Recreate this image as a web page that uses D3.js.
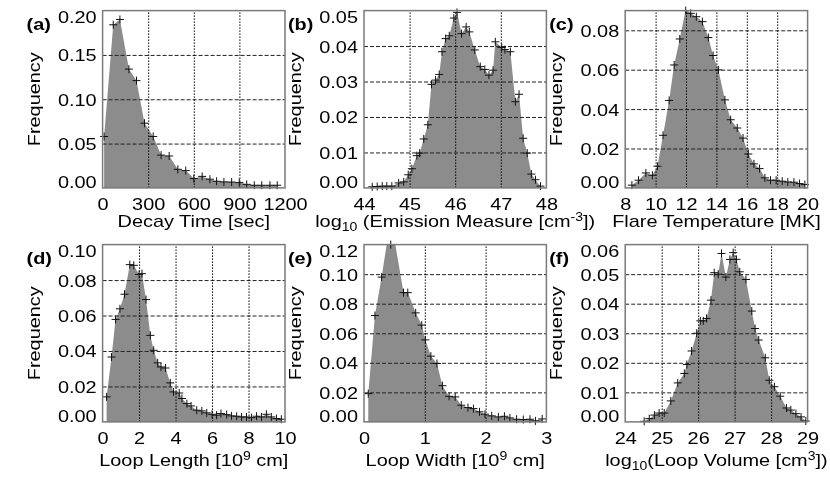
<!DOCTYPE html>
<html>
<head>
<meta charset="utf-8">
<script src="https://cdn.jsdelivr.net/npm/d3@7"></script>
<style>
body{margin:0;background:#fff}
svg{will-change:transform;-webkit-font-smoothing:antialiased}
text{font-family:"Liberation Sans",Arial,Helvetica,sans-serif;fill:#000}
</style>
</head>
<body>
<script>
// (a) decay time
var decayTime = [10, 70, 114, 173, 223, 276, 333, 385, 438, 495, 547, 600, 655, 706, 750, 798, 849, 899, 948, 998, 1047, 1101, 1149];
var decayFreq = [0.058, 0.184, 0.190, 0.134, 0.121, 0.073, 0.058, 0.037, 0.036, 0.021, 0.0195, 0.0105, 0.013, 0.0098, 0.0075, 0.0068, 0.0066, 0.006, 0.004, 0.003, 0.003, 0.003, 0.003];
var decayTicks = [0, 300, 600, 900, 1200];

// (b) log10 emission measure
var emX = [44.18, 44.29, 44.40, 44.50, 44.61, 44.76, 44.87, 44.97, 45.05, 45.16, 45.22, 45.31, 45.40, 45.48, 45.57, 45.65, 45.71, 45.79, 45.87, 45.97, 46.04, 46.14, 46.24, 46.31, 46.43, 46.55, 46.65, 46.74, 46.83, 46.88, 47.02, 47.09, 47.21, 47.32, 47.40, 47.49, 47.58, 47.67, 47.76, 47.87];
var emFreq = [0.0003, 0.0004, 0.0005, 0.0005, 0.0005, 0.0014, 0.0017, 0.0037, 0.0054, 0.0091, 0.0098, 0.0138, 0.0178, 0.0292, 0.0304, 0.032, 0.0384, 0.0421, 0.0429, 0.0479, 0.0495, 0.0435, 0.0454, 0.044, 0.0389, 0.0342, 0.0334, 0.0318, 0.0332, 0.0412, 0.0396, 0.039, 0.0384, 0.0243, 0.0264, 0.014, 0.0098, 0.0039, 0.0023, 0.0005];
var emTicks = [44, 45, 46, 47, 48];

// (c) flare temperature
var tempX = [8.44, 8.88, 9.36, 9.79, 10.12, 10.49, 10.89, 11.22, 11.59, 11.98, 12.31, 12.68, 13.08, 13.47, 13.78, 14.13, 14.56, 14.94, 15.37, 15.75, 16.10, 16.47, 16.84, 17.19, 17.56, 17.93, 18.33, 18.70, 19.10, 19.47, 19.82];
var tempFreq = [0.0014, 0.0039, 0.0076, 0.0064, 0.011, 0.0267, 0.0444, 0.0624, 0.0756, 0.0905, 0.0886, 0.0869, 0.0844, 0.0763, 0.0672, 0.0599, 0.0447, 0.0346, 0.0304, 0.0253, 0.0172, 0.0122, 0.0098, 0.0051, 0.0039, 0.0039, 0.0034, 0.003, 0.0029, 0.0022, 0.0017];
var tempTicks = [8, 10, 12, 14, 16, 18, 20];

// (d) loop length
var lenX = [0.22, 0.49, 0.71, 0.95, 1.2, 1.49, 1.71, 2.0, 2.16, 2.38, 2.62, 2.8, 3.02, 3.2, 3.45, 3.71, 3.89, 4.2, 4.35, 4.62, 4.85, 5.16, 5.44, 5.71, 6.0, 6.25, 6.49, 6.8, 7.07, 7.35, 7.62, 7.89, 8.16, 8.44, 8.71, 8.98, 9.25, 9.53, 9.8];
var lenFreq = [0.0141, 0.0366, 0.0578, 0.0638, 0.072, 0.0887, 0.0883, 0.0832, 0.0836, 0.069, 0.0488, 0.0404, 0.0333, 0.031, 0.0304, 0.022, 0.0169, 0.0163, 0.0132, 0.0103, 0.009, 0.0066, 0.0062, 0.0051, 0.0043, 0.0038, 0.0047, 0.0041, 0.0034, 0.0032, 0.0028, 0.0028, 0.0024, 0.0032, 0.0028, 0.0043, 0.0028, 0.0019, 0.0015];
var lenTicks = [0, 2, 4, 6, 8, 10];

// (e) loop width
var widX = [0.07, 0.18, 0.29, 0.44, 0.65, 0.72, 0.85, 0.95, 1.01, 1.1, 1.2, 1.29, 1.40, 1.5, 1.6, 1.71, 1.8, 1.9, 1.99, 2.1, 2.21, 2.31, 2.4, 2.51, 2.62, 2.73, 2.82, 2.93];
var widFreq = [0.0191, 0.072, 0.098, 0.138, 0.0875, 0.0875, 0.0738, 0.0655, 0.0555, 0.0445, 0.0395, 0.0245, 0.0173, 0.0169, 0.0113, 0.0097, 0.009, 0.0068, 0.0052, 0.0041, 0.0034, 0.0038, 0.0027, 0.0018, 0.0016, 0.0018, 0.0007, 0.002];
var widTicks = [0, 1, 2, 3];

// (f) log10 loop volume
var volX = [24.52, 24.66, 24.80, 24.93, 25.07, 25.25, 25.44, 25.62, 25.69, 25.82, 25.96, 26.06, 26.14, 26.23, 26.35, 26.44, 26.55, 26.64, 26.76, 26.87, 26.96, 27.05, 27.14, 27.31, 27.47, 27.56, 27.66, 27.84, 27.95, 28.09, 28.25, 28.42, 28.54, 28.68, 28.82, 28.95];
var volFreq = [0.0002, 0.0011, 0.0023, 0.003, 0.003, 0.0071, 0.0132, 0.0164, 0.0194, 0.024, 0.030, 0.0342, 0.0342, 0.035, 0.0412, 0.0505, 0.050, 0.057, 0.049, 0.055, 0.0573, 0.055, 0.0508, 0.0482, 0.0375, 0.0316, 0.0277, 0.0217, 0.0141, 0.0119, 0.0087, 0.0047, 0.004, 0.0028, 0.0017, 0.0003];
var volTicks = [24, 25, 26, 27, 28, 29];

var panels = [
	{tag:'(a)', col:0, row:0, xs:decayTime, ys:decayFreq, xDom:[0,1200], xTicks:decayTicks, yMax:0.20, yTicks:[0,0.05,0.10,0.15,0.20],
		title:[['Decay Time [sec]']]},
	{tag:'(b)', col:1, row:0, xs:emX, ys:emFreq, xDom:[44,48], xTicks:emTicks, yMax:0.05, yTicks:[0,0.01,0.02,0.03,0.04,0.05],
		title:[['log'],['10','sub'],[' (Emission Measure [cm'],['-3','sup'],['])']]},
	{tag:'(c)', col:2, row:0, xs:tempX, ys:tempFreq, xDom:[8,20], xTicks:tempTicks, yMax:0.09, yTicks:[0,0.02,0.04,0.06,0.08],
		title:[['Flare Temperature [MK]']]},
	{tag:'(d)', col:0, row:1, xs:lenX, ys:lenFreq, xDom:[0,10], xTicks:lenTicks, yMax:0.10, yTicks:[0,0.02,0.04,0.06,0.08,0.10],
		title:[['Loop Length [10'],['9','sup'],[' cm]']]},
	{tag:'(e)', col:1, row:1, xs:widX, ys:widFreq, xDom:[0,3], xTicks:widTicks, yMax:0.12, yTicks:[0,0.02,0.04,0.06,0.08,0.10,0.12],
		title:[['Loop Width [10'],['9','sup'],[' cm]']]},
	{tag:'(f)', col:2, row:1, xs:volX, ys:volFreq, xDom:[24,29], xTicks:volTicks, yMax:0.06, yTicks:[0,0.01,0.02,0.03,0.04,0.05,0.06],
		title:[['log'],['10','sub'],['(Loop Volume [cm'],['3','sup'],['])']]}
];

var width = 830, height = 489;
var W = 182.4, H = 177.3;
var lefts = [102.6, 364, 625.2];
var tops = [10.6, 244.6];
var titleOff = [39, 44];
var SX = 1.17; // the original lettering is wider than Liberation Sans
var FS = 17;

var svg = d3.select('body').append('svg').attr('width',width).attr('height',height);

function richText(sel, segs, anchor){
	var t = sel.append('text').attr('text-anchor',anchor).attr('font-size',FS);
	var off = 0;
	segs.forEach(s=>{
		var shift = s[1]==='sub' ? 4 : s[1]==='sup' ? -6 : 0;
		t.append('tspan')
			.attr('dy', shift-off)
			.attr('font-size', s[1] ? 12 : FS)
			.text(s[0]);
		off = shift;
	});
	return t;
}

panels.forEach((p,i)=>{
	var L = lefts[p.col], T = tops[p.row];
	var g = svg.append('g').attr('transform',`translate(${L},${T})`);

	var x = d3.scaleLinear().domain(p.xDom).range([0,W]);
	var y = d3.scaleLinear().domain([0,p.yMax]).range([H,0]);

	g.append('clipPath').attr('id','clip'+i)
		.append('rect').attr('width',W).attr('height',H);

	var pts = d3.zip(p.xs, p.ys);
	var area = d3.area()
		.x(d=>x(d[0]))
		.y0(H)
		.y1(d=>y(d[1]));

	g.append('path')
		.datum(pts)
		.attr('clip-path',`url(#clip${i})`)
		.attr('fill','#8c8c8c')
		.attr('d',area);

	// grid: dashed horizontals, dotted verticals
	var yIn = p.yTicks.filter(v=>v>0 && v<p.yMax);
	var xIn = p.xTicks.filter(v=>v>p.xDom[0] && v<p.xDom[1]);

	var gy = g.append('g').call(d3.axisLeft(y).tickValues(yIn).tickSize(-W).tickFormat(''));
	gy.select('.domain').remove();
	gy.selectAll('line').attr('stroke','#222').attr('stroke-dasharray','4,2');

	var gx = g.append('g').attr('transform',`translate(0,${H})`)
		.call(d3.axisBottom(x).tickValues(xIn).tickSize(-H).tickFormat(''));
	gx.select('.domain').remove();
	gx.selectAll('line').attr('stroke','#000').attr('stroke-dasharray','1.5,1.5');

	// plus markers
	g.append('g').selectAll('path.mark')
		.data(pts)
		.enter().append('path')
			.attr('class','mark')
			.attr('transform',d=>`translate(${x(d[0])},${y(Math.min(d[1],p.yMax))})`)
			.attr('d','M-4,0H4M0,-4V4')
			.attr('stroke','#111')
			.attr('stroke-width',1)
			.attr('fill','none');

	// frame
	g.append('rect').attr('width',W).attr('height',H)
		.attr('fill','none').attr('stroke','#7a7a7a').attr('stroke-width',1.5);

	// y tick labels
	var ay = g.append('g').call(d3.axisLeft(y).tickValues(p.yTicks).tickSize(0).tickFormat(d3.format('.2f')));
	ay.select('.domain').remove();
	ay.selectAll('text')
		.attr('x',0).attr('dy',0)
		.attr('font-size',FS).attr('font-family',null)
		.attr('transform',d=>{
			var py = y(d), shift = 6;
			if (py < 6) shift = 12;
			if (py > H-6) shift = 0;
			return `translate(-6,${shift}) scale(${SX},1)`;
		});

	// x tick labels
	var ax = g.append('g').attr('transform',`translate(0,${H})`)
		.call(d3.axisBottom(x).tickValues(p.xTicks).tickSize(0).tickFormat(d3.format('d')));
	ax.select('.domain').remove();
	ax.selectAll('text')
		.attr('y',0).attr('dy',0)
		.attr('font-size',FS).attr('font-family',null)
		.attr('transform',`translate(0,22) scale(${SX},1)`);

	// axis titles
	var tg = g.append('g').attr('transform',`translate(${W/2},${H+titleOff[p.row]}) scale(${SX},1)`);
	richText(tg, p.title, 'middle');

	var fg = g.append('g').attr('transform',`translate(-63,${H/2}) rotate(-90) scale(${SX},1)`);
	richText(fg, [['Frequency']], 'middle');

	g.append('text')
		.attr('transform',`translate(-76,19) scale(${SX},1)`)
		.attr('font-size',FS).attr('font-weight','bold')
		.text(p.tag);
});
</script>
</body>
</html>
